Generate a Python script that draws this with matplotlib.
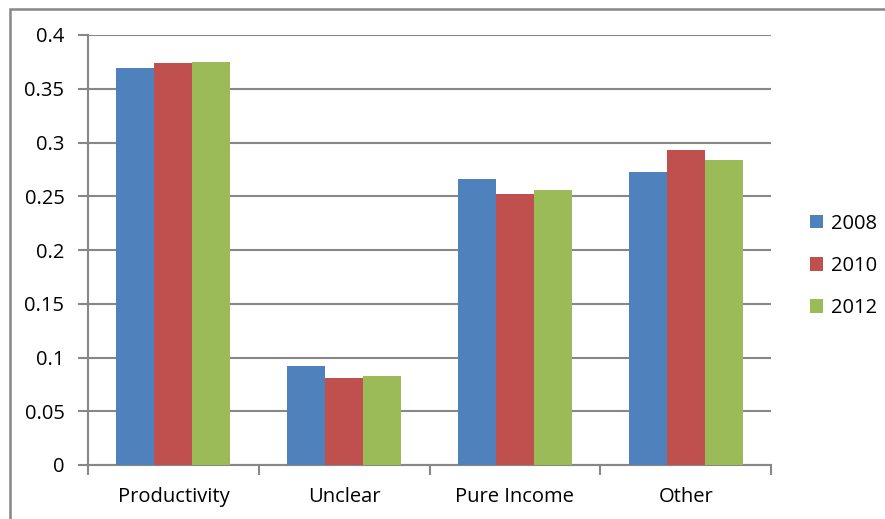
import numpy as np
import matplotlib
matplotlib.use('Agg')
import matplotlib.pyplot as plt
from matplotlib.patches import Rectangle

# Values
categories = ['Productivity', 'Unclear', 'Pure Income', 'Other']
years = ['2008', '2010', '2012']
vals_2008 = [0.369, 0.092, 0.266, 0.273]
vals_2010 = [0.374, 0.081, 0.252, 0.293]
vals_2012 = [0.375, 0.083, 0.256, 0.284]
y_ticks = [0, 0.05, 0.1, 0.15, 0.2, 0.25, 0.3, 0.35, 0.4]
y_tick_labels = ['0', '0.05', '0.1', '0.15', '0.2', '0.25', '0.3', '0.35', '0.4']

colors = ['#4F81BD', '#C0504D', '#9BBB59']
grid_gray = '#878787'

plt.rcParams['font.family'] = ['Open Sans', 'DejaVu Sans']
fs = 14.5

fig = plt.figure(figsize=(8.85, 5.19), dpi=100)
ax = fig.add_axes([88 / 885, 54 / 519, 683 / 885, 430 / 519])

# Excel style: gap width 150% -> bar width = 1/4.5 of a category
x = np.arange(len(categories))
w = 1 / 4.5
for i, (vals, color, label) in enumerate(zip([vals_2008, vals_2010, vals_2012], colors, years)):
    ax.bar(x + (i - 1) * w, vals, width=w, color=color, label=label, zorder=3)

ax.set_xlim(-0.5, len(categories) - 0.5)
ax.set_ylim(0, 0.4)
ax.set_yticks(y_ticks)
ax.set_yticklabels(y_tick_labels)
ax.yaxis.grid(True, color=grid_gray, linewidth=1.5, zorder=0)

# x ticks at category boundaries, labels at centres
ax.set_xticks(np.arange(len(categories) + 1) - 0.5)
ax.set_xticklabels([])
ax.set_xticks(x, minor=True)
ax.set_xticklabels(categories, minor=True)
ax.tick_params(axis='x', which='major', length=7, width=1.5, color=grid_gray, direction='out')
ax.tick_params(axis='x', which='minor', length=0, pad=16, labelsize=fs)
ax.tick_params(axis='y', length=7, width=1.5, color=grid_gray, direction='out', pad=10, labelsize=fs)

for side in ['top', 'right']:
    ax.spines[side].set_visible(False)
for side in ['left', 'bottom']:
    ax.spines[side].set_color(grid_gray)
    ax.spines[side].set_linewidth(1.5)

ax.legend(loc='center left', bbox_to_anchor=(800 / 885, (519 - 266) / 519), bbox_transform=fig.transFigure,
          frameon=False, fontsize=fs, handlelength=0.65, handleheight=0.65,
          handletextpad=0.4, labelspacing=1.1, borderpad=0)

# outer chart frame (only left and top edges fall inside the image)
fig.patches.append(Rectangle((10 / 885, -0.1), 1.2, (519 - 9) / 519 + 0.1,
                             transform=fig.transFigure, fill=False,
                             edgecolor=grid_gray, linewidth=1.8))

plt.savefig('out.png', dpi=100)
